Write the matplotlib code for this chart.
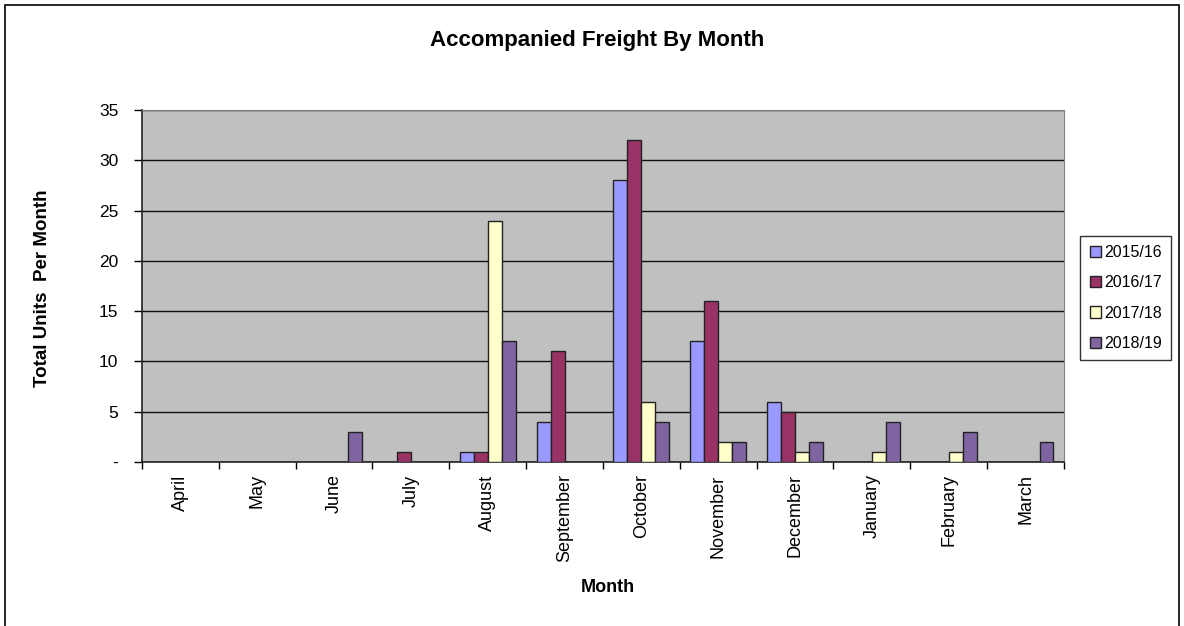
import matplotlib.pyplot as plt
import matplotlib.patches as mpatches
from matplotlib.ticker import FuncFormatter, MultipleLocator
import numpy as np

plt.rcParams['font.family'] = ['Liberation Sans', 'DejaVu Sans']

months = ['April', 'May', 'June', 'July', 'August', 'September', 'October',
          'November', 'December', 'January', 'February', 'March']
seasons = ['2015/16', '2016/17', '2017/18', '2018/19']
units_1516 = [0, 0, 0, 0, 1, 4, 28, 12, 6, 0, 0, 0]
units_1617 = [0, 0, 0, 1, 1, 11, 32, 16, 5, 0, 0, 0]
units_1718 = [0, 0, 0, 0, 24, 0, 6, 2, 1, 1, 1, 0]
units_1819 = [0, 0, 3, 0, 12, 0, 4, 2, 2, 4, 3, 2]
series = [units_1516, units_1617, units_1718, units_1819]
colors = ['#9999FF', '#993366', '#FFFFCC', '#8064A2']

fig = plt.figure(figsize=(11.84, 6.26), dpi=100)
# outer chart border
fig.patches.append(mpatches.Rectangle((0.004, -0.01), 0.992, 1.002, transform=fig.transFigure,
                                      fill=False, edgecolor='black', linewidth=1.2))

ax = fig.add_axes([0.1199, 0.2620, 0.7787, 0.5623])
ax.set_facecolor('#C0C0C0')

x = np.arange(len(months))
bw = 0.182
for i, (vals, col, lab) in enumerate(zip(series, colors, seasons)):
    v = np.array(vals, dtype=float)
    keep = v > 0
    ax.bar(x[keep] + (i - 1.5) * bw, v[keep], width=bw, color=col,
           edgecolor='#222222', linewidth=1.0, label=lab, zorder=3)

ax.set_xlim(-0.5, 11.5)
ax.set_ylim(0, 35)
ax.yaxis.set_major_locator(MultipleLocator(5))
ax.yaxis.set_major_formatter(FuncFormatter(lambda v, p: '-' if v == 0 else f'{v:.0f}'))
ax.grid(axis='y', color='#111111', linewidth=1.0, zorder=1)

ax.set_xticks(x)
ax.set_xticklabels(months, rotation=90, fontsize=13)
ax.set_xticks(np.arange(-0.5, 12, 1), minor=True)
ax.tick_params(axis='x', which='major', length=0, pad=9)
ax.tick_params(axis='x', which='minor', length=5, width=1, direction='out')
ax.tick_params(axis='y', length=6, width=1, labelsize=12.5, pad=11)

for s in ['top', 'right']:
    ax.spines[s].set_color('#808080')
for s in ['left', 'bottom']:
    ax.spines[s].set_color('#222222')
    ax.spines[s].set_linewidth(1.2)

fig.text(0.5135, 0.0623, 'Month', ha='center', va='center', fontsize=13, fontweight='bold')
fig.text(0.0355, 0.540, 'Total Units  Per Month', ha='center', va='center', rotation=90,
         fontsize=13.5, fontweight='bold')
fig.text(0.5046, 0.936, 'Accompanied Freight By Month', ha='center', va='center',
         fontsize=16, fontweight='bold')

leg = fig.legend(loc='center left', bbox_to_anchor=(0.9055, 0.524), fontsize=11.5,
                 frameon=True, fancybox=False, edgecolor='black',
                 handlelength=0.7, handleheight=0.7, handletextpad=0.2,
                 labelspacing=0.95, borderpad=0.6)
leg.get_frame().set_linewidth(1.0)

fig.savefig('out.png', dpi=100, facecolor='white')
